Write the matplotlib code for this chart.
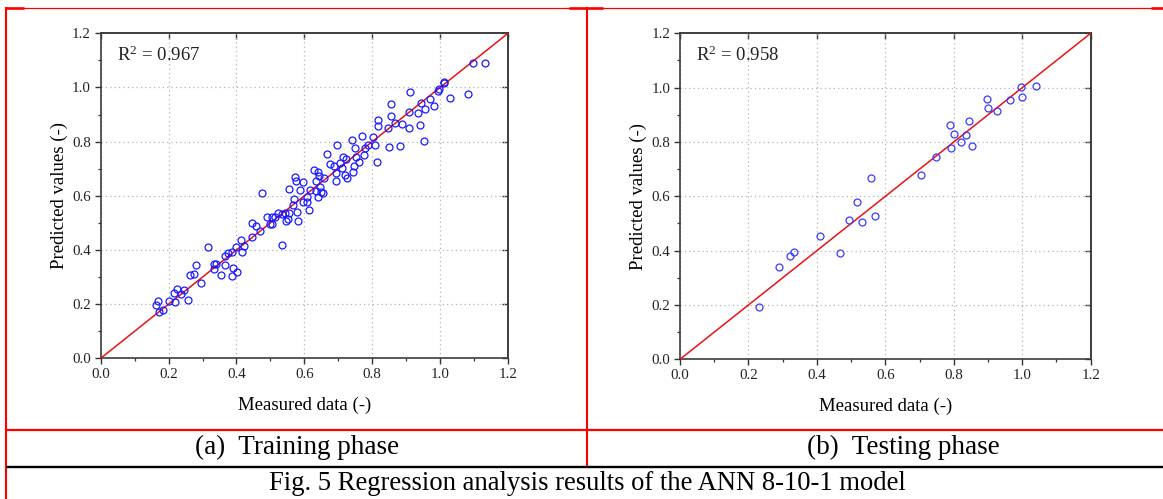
import matplotlib
matplotlib.use("Agg")
import matplotlib.pyplot as plt
from matplotlib.ticker import MultipleLocator, FormatStrFormatter

plt.rcParams['font.family'] = ['Liberation Serif', 'DejaVu Serif']
plt.rcParams['mathtext.default'] = 'regular'

# ---------------- data ----------------
train_measured = [0.162, 0.170, 0.173, 0.183, 0.201, 0.220, 0.217, 0.226, 0.246, 0.238,
                  0.258, 0.263, 0.275, 0.282, 0.295, 0.315, 0.334, 0.339, 0.334, 0.353,
                  0.366, 0.365, 0.376, 0.386, 0.389, 0.387, 0.403, 0.400, 0.413, 0.416,
                  0.422, 0.446, 0.446, 0.459, 0.470, 0.475, 0.491, 0.500, 0.505, 0.505,
                  0.515, 0.521, 0.534, 0.534, 0.543, 0.546, 0.551, 0.554, 0.554, 0.568,
                  0.569, 0.573, 0.574, 0.579, 0.581, 0.587, 0.596, 0.597, 0.607, 0.609,
                  0.613, 0.616, 0.628, 0.634, 0.634, 0.641, 0.643, 0.639, 0.646, 0.650,
                  0.656, 0.658, 0.666, 0.675, 0.687, 0.692, 0.693, 0.695, 0.705, 0.711,
                  0.714, 0.719, 0.722, 0.727, 0.739, 0.742, 0.747, 0.751, 0.749, 0.762,
                  0.770, 0.776, 0.780, 0.788, 0.803, 0.808, 0.813, 0.817, 0.817, 0.847,
                  0.848, 0.854, 0.854, 0.867, 0.883, 0.889, 0.908, 0.909, 0.912, 0.936,
                  0.940, 0.943, 0.954, 0.953, 0.971, 0.983, 0.994, 0.998, 1.010, 1.011,
                  1.028, 1.083, 1.098, 1.132]
train_predicted = [0.197, 0.212, 0.172, 0.178, 0.212, 0.208, 0.240, 0.257, 0.252, 0.238,
                   0.217, 0.308, 0.310, 0.343, 0.277, 0.412, 0.347, 0.348, 0.331, 0.309,
                   0.378, 0.343, 0.388, 0.391, 0.332, 0.304, 0.318, 0.412, 0.437, 0.394,
                   0.416, 0.498, 0.448, 0.490, 0.471, 0.609, 0.523, 0.497, 0.496, 0.523,
                   0.523, 0.535, 0.418, 0.534, 0.535, 0.506, 0.514, 0.624, 0.535, 0.566,
                   0.587, 0.671, 0.654, 0.539, 0.507, 0.622, 0.578, 0.650, 0.597, 0.578,
                   0.548, 0.622, 0.694, 0.654, 0.619, 0.689, 0.674, 0.597, 0.634, 0.615,
                   0.612, 0.666, 0.756, 0.716, 0.711, 0.654, 0.683, 0.788, 0.722, 0.702,
                   0.742, 0.677, 0.735, 0.666, 0.806, 0.688, 0.711, 0.745, 0.775, 0.726,
                   0.822, 0.751, 0.775, 0.788, 0.816, 0.788, 0.726, 0.880, 0.859, 0.849,
                   0.782, 0.938, 0.895, 0.870, 0.784, 0.866, 0.911, 0.849, 0.985, 0.907,
                   0.862, 0.942, 0.922, 0.804, 0.958, 0.932, 0.987, 0.996, 1.022, 1.017,
                   0.961, 0.976, 1.092, 1.092]

test_measured = [0.230, 0.289, 0.321, 0.334, 0.408, 0.468, 0.494, 0.517, 0.533, 0.557,
                 0.570, 0.703, 0.749, 0.790, 0.793, 0.802, 0.822, 0.836, 0.845, 0.853,
                 0.898, 0.900, 0.927, 0.965, 0.996, 0.999, 1.041]
test_predicted = [0.191, 0.339, 0.381, 0.395, 0.453, 0.393, 0.511, 0.578, 0.505, 0.669,
                  0.528, 0.678, 0.743, 0.862, 0.776, 0.831, 0.801, 0.827, 0.877, 0.784,
                  0.957, 0.926, 0.915, 0.953, 1.001, 0.966, 1.006]

r2_labels = ["R$^{2}$ = 0.967", "R$^{2}$ = 0.958"]
captions = ["(a)  Training phase", "(b)  Testing phase"]
fig_caption = "Fig. 5 Regression analysis results of the ANN 8-10-1 model"
ticks = [0.0, 0.2, 0.4, 0.6, 0.8, 1.0, 1.2]

W, H = 1163, 499
fig = plt.figure(figsize=(W / 100, H / 100), dpi=100)

# overlay for table borders (pixel coordinates)
ov = fig.add_axes([0, 0, 1, 1], zorder=0)
ov.set_xlim(0, W)
ov.set_ylim(H, 0)
ov.axis('off')
red = '#ff0000'
ov.plot([5, W], [7.5, 7.5], color=red, lw=0.9, solid_capstyle='butt')
for x0, x1 in [(5, 24), (569, 603), (1151, W)]:
    ov.plot([x0, x1], [8.2, 8.2], color=red, lw=1.9, solid_capstyle='butt')
ov.plot([6, 6], [7, H], color=red, lw=1.5, solid_capstyle='butt')
ov.plot([587, 587], [7, 466], color=red, lw=1.5, solid_capstyle='butt')
ov.plot([6, W], [429.5, 429.5], color=red, lw=1.6, solid_capstyle='butt')
ov.plot([6, W], [466.7, 466.7], color='black', lw=1.7, solid_capstyle='butt')

ov.text(297, 447, captions[0], fontsize=19.5, ha='center', va='center')
ov.text(903, 447, captions[1], fontsize=19.5, ha='center', va='center')
ov.text(587, 483.5, fig_caption, fontsize=19.2, ha='center', va='center')


def make_panel(rect, xs, ys, r2, mcolor):
    ax = fig.add_axes(rect, zorder=2)
    ax.set_xlim(0, 1.2)
    ax.set_ylim(0, 1.2)
    ax.set_xticks(ticks)
    ax.set_yticks(ticks)
    ax.xaxis.set_minor_locator(MultipleLocator(0.1))
    ax.yaxis.set_minor_locator(MultipleLocator(0.1))
    ax.xaxis.set_major_formatter(FormatStrFormatter('%.1f'))
    ax.yaxis.set_major_formatter(FormatStrFormatter('%.1f'))
    ax.tick_params(which='major', direction='out', length=4, width=1.0,
                   color='#333333', labelsize=10.8, pad=3, labelcolor='#222222')
    ax.tick_params(which='minor', direction='out', length=2.5, width=0.9, color='#333333')
    for s in ax.spines.values():
        s.set_color('#3c3c3c')
        s.set_linewidth(1.2)
    ax.grid(True, which='major', color='#b4b4b4', linestyle=(0, (1, 2.5)), linewidth=0.9)
    ax.set_axisbelow(True)
    # mirrored top/right ticks pointing inward
    top = ax.secondary_xaxis('top')
    top.set_xticks(ticks)
    top.tick_params(direction='in', length=4, width=1.0, color='#333333', labelsize=0,
                    labeltop=False)
    top.set_xticklabels([])
    right = ax.secondary_yaxis('right')
    right.set_yticks(ticks)
    right.tick_params(direction='in', length=4, width=1.0, color='#333333', labelright=False)
    right.set_yticklabels([])
    for sec in (top, right):
        for s in sec.spines.values():
            s.set_color('#3c3c3c')
            s.set_linewidth(1.2)

    ax.plot([0, 1.2], [0, 1.2], color='#ee1111', lw=1.1, zorder=3)
    ax.plot(xs, ys, linestyle='none', marker='o', markersize=5.0, markerfacecolor='none',
            markeredgecolor=mcolor, markeredgewidth=0.9, zorder=4)
    ax.text(0.04, 0.933, r2, transform=ax.transAxes, fontsize=13.5, ha='left', va='center',
            color='#222222')
    ax.set_xlabel("Measured data (-)", fontsize=13.5, labelpad=11)
    ax.set_ylabel("Predicted values (-)", fontsize=13.5, labelpad=3)
    return ax


make_panel([100.7 / W, 1 - 358.3 / H, 407.3 / W, 325.0 / H], train_measured, train_predicted,
           r2_labels[0], '#1a1aff')
make_panel([680.0 / W, 1 - 359.3 / H, 410.7 / W, 326.0 / H], test_measured, test_predicted,
           r2_labels[1], '#3a3aff')

fig.savefig("out.png", dpi=100)
